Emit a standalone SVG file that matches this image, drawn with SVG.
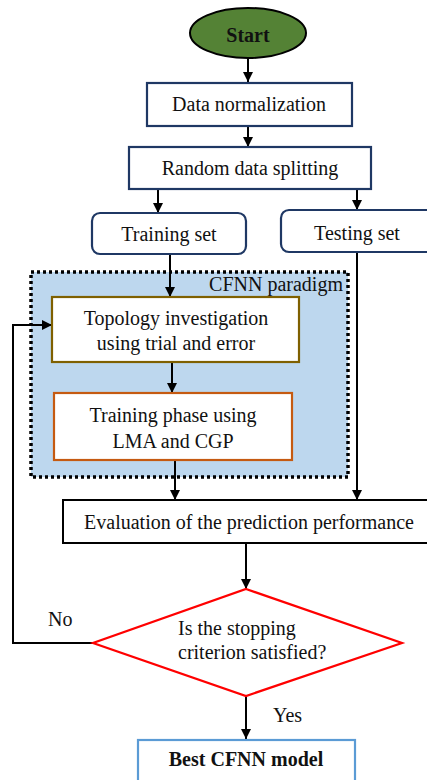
<svg xmlns="http://www.w3.org/2000/svg" width="427" height="780" viewBox="0 0 427 780">
<defs>
<marker id="ah" viewBox="0 0 10 10" refX="10" refY="5" markerWidth="10" markerHeight="10" markerUnits="userSpaceOnUse" orient="auto">
<path d="M0,0 L10,5 L0,10 z" fill="#000"/>
</marker>
<style>
text{font-family:"Liberation Serif","Times New Roman",serif;font-size:20px;fill:#111;}
.c{text-anchor:middle;}
.con{fill:none;stroke:#000;stroke-width:2;}
.blue{fill:#fff;stroke:#1F3864;stroke-width:2.2;}
</style>
</defs>
<rect width="427" height="780" fill="#fff"/>
<g id="cfnn">
<rect x="31" y="272" width="317" height="205" fill="#BDD7EE" stroke="#000" stroke-width="3.5" stroke-dasharray="3,3"/>
<text x="343" y="291" text-anchor="end">CFNN paradigm</text>
</g>
<g id="connectors">
<line class="con" x1="248" y1="58" x2="248" y2="82" marker-end="url(#ah)"/>
<line class="con" x1="248" y1="126" x2="248" y2="147" marker-end="url(#ah)"/>
<line class="con" x1="158" y1="189" x2="158" y2="213" marker-end="url(#ah)"/>
<line class="con" x1="357" y1="189" x2="357" y2="210" marker-end="url(#ah)"/>
<line class="con" x1="170" y1="254" x2="170" y2="297" marker-end="url(#ah)"/>
<line class="con" x1="172" y1="362" x2="172" y2="393" marker-end="url(#ah)"/>
<line class="con" x1="175" y1="460" x2="175" y2="500" marker-end="url(#ah)"/>
<line class="con" x1="357" y1="252" x2="357" y2="500" marker-end="url(#ah)"/>
<line class="con" x1="246" y1="543" x2="246" y2="589" marker-end="url(#ah)"/>
<line class="con" x1="246" y1="696" x2="246" y2="739" marker-end="url(#ah)"/>
<polyline class="con" points="93,643 13,643 13,325 52,325" marker-end="url(#ah)"/>
<text x="48" y="626">No</text>
<text x="273" y="722">Yes</text>
</g>
<g id="start">
<ellipse cx="248" cy="33" rx="58" ry="25" fill="#548235" stroke="#000" stroke-width="2"/>
<text class="c" x="248" y="42" font-weight="bold">Start</text>
</g>
<g id="norm">
<rect class="blue" x="147" y="83" width="205" height="43"/>
<text class="c" x="249" y="111">Data normalization</text>
</g>
<g id="split">
<rect class="blue" x="129" y="147" width="242" height="42"/>
<text class="c" x="250" y="175">Random data splitting</text>
</g>
<g id="train">
<rect class="blue" x="92" y="213" width="154" height="41" rx="8"/>
<text class="c" x="169" y="241">Training set</text>
</g>
<g id="test">
<rect class="blue" x="281" y="210" width="160" height="42" rx="8"/>
<text class="c" x="357" y="240">Testing set</text>
</g>
<g id="topology">
<rect x="52" y="297" width="247" height="65" fill="#fff" stroke="#7F6000" stroke-width="2.2"/>
<text class="c" x="176" y="325">Topology investigation</text>
<text class="c" x="176" y="350">using trial and error</text>
</g>
<g id="trainphase">
<rect x="54" y="393" width="238" height="67" fill="#fff" stroke="#C55A11" stroke-width="2.2"/>
<text class="c" x="173" y="422">Training phase using</text>
<text class="c" x="173" y="448">LMA and CGP</text>
</g>
<g id="eval">
<rect x="63" y="500" width="380" height="43" fill="#fff" stroke="#000" stroke-width="2"/>
<text class="c" x="249" y="529">Evaluation of the prediction performance</text>
</g>
<g id="decision">
<polygon points="246,589 402,643 246,696 93,643" fill="#fff" stroke="#FF0000" stroke-width="2.2"/>
<text x="178" y="635">Is the stopping</text>
<text x="178" y="659">criterion satisfied?</text>
</g>
<g id="best">
<rect x="138" y="740" width="217" height="50" fill="#fff" stroke="#5B9BD5" stroke-width="2.2"/>
<text class="c" x="246" y="766" font-weight="bold">Best CFNN model</text>
</g>
</svg>
